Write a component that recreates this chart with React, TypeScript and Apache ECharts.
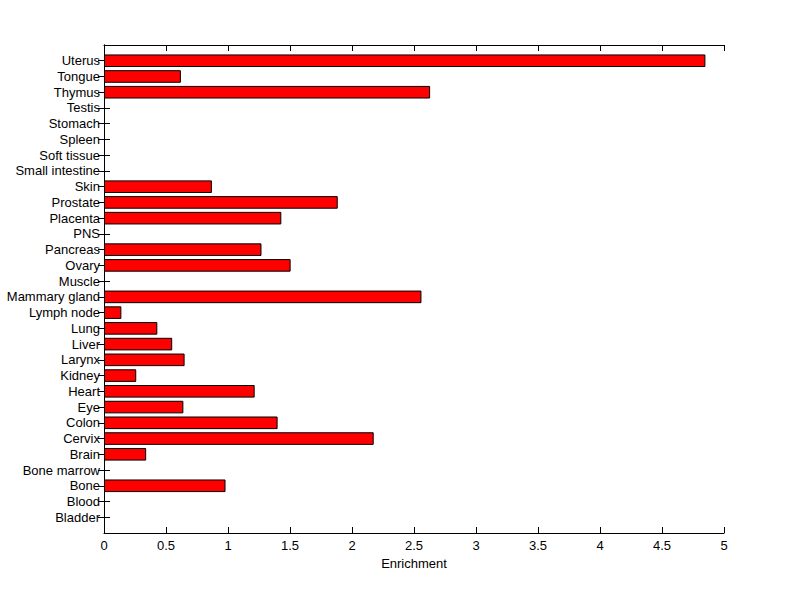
import React, { useEffect, useRef } from "react";
import * as echarts from "echarts";

const categories = [
  "Bladder", "Blood", "Bone", "Bone marrow", "Brain", "Cervix", "Colon", "Eye",
  "Heart", "Kidney", "Larynx", "Liver", "Lung", "Lymph node", "Mammary gland",
  "Muscle", "Ovary", "Pancreas", "PNS", "Placenta", "Prostate", "Skin",
  "Small intestine", "Soft tissue", "Spleen", "Stomach", "Testis", "Thymus",
  "Tongue", "Uterus",
];

const enrichment = [
  0, 0, 0.98, 0, 0.34, 2.175, 1.40, 0.64,
  1.215, 0.26, 0.65, 0.55, 0.43, 0.14, 2.56,
  0, 1.505, 1.27, 0, 1.43, 1.885, 0.87,
  0, 0, 0, 0, 0, 2.63,
  0.62, 4.85,
];

const xTicks = { min: 0, max: 5, interval: 0.5 };

export default function App() {
  const ref = useRef<HTMLDivElement>(null);
  useEffect(() => {
    if (!ref.current) return;
    const chart = echarts.init(ref.current, undefined, { renderer: "svg" });
    // pad with empty slots so bars sit at 1..N on a 0..N+1 range
    const cats = ["", ...categories, ""];
    const vals: (number | string)[] = ["-", ...enrichment.map((v) => (v > 0 ? v : "-")), "-"];
    const font = { fontFamily: "Arial, 'Liberation Sans', sans-serif", fontSize: 13, color: "#000" };
    const tickInterval = (i: number, v: string) => v !== "";
    const catAxisBase = {
      type: "category" as const,
      data: cats,
      boundaryGap: false,
      axisLine: { show: true, lineStyle: { color: "#000", width: 1 } },
      splitLine: { show: false },
    };
    const valAxisBase = {
      type: "value" as const,
      min: xTicks.min,
      max: xTicks.max,
      interval: xTicks.interval,
      axisLine: { show: true, onZero: false, lineStyle: { color: "#000", width: 1 } },
      splitLine: { show: false },
    };
    chart.setOption({
      animation: false,
      backgroundColor: "#fff",
      grid: { left: 104, top: 45, width: 620, height: 488, containLabel: false },
      xAxis: [
        {
          ...valAxisBase,
          position: "bottom",
          name: "Enrichment",
          nameLocation: "middle",
          nameGap: 23,
          nameTextStyle: font,
          axisTick: { show: true, inside: true, length: 6, lineStyle: { color: "#000" } },
          axisLabel: { ...font, margin: 6, formatter: (v: number) => String(v) },
        },
        {
          ...valAxisBase,
          position: "top",
          axisTick: { show: true, inside: true, length: 6, lineStyle: { color: "#000" } },
          axisLabel: { show: false },
        },
      ],
      yAxis: [
        {
          ...catAxisBase,
          position: "left",
          axisTick: { show: true, inside: true, length: 6, interval: tickInterval, lineStyle: { color: "#000" } },
          axisLabel: { ...font, margin: 4, interval: 0 },
        },
        {
          ...catAxisBase,
          position: "right",
          axisTick: { show: true, inside: true, length: 6, interval: tickInterval, lineStyle: { color: "#000" } },
          axisLabel: { show: false },
        },
      ],
      series: [
        {
          type: "bar",
          xAxisIndex: 0,
          yAxisIndex: 0,
          data: vals,
          barWidth: "80%",
          itemStyle: { color: "#ff0000", borderColor: "#000", borderWidth: 1 },
          silent: true,
        },
      ],
    });
    return () => chart.dispose();
  }, []);
  return (
    <div
      ref={ref}
      style={{ position: "absolute", left: 0, top: 0, width: 800, height: 599 }}
    />
  );
}
